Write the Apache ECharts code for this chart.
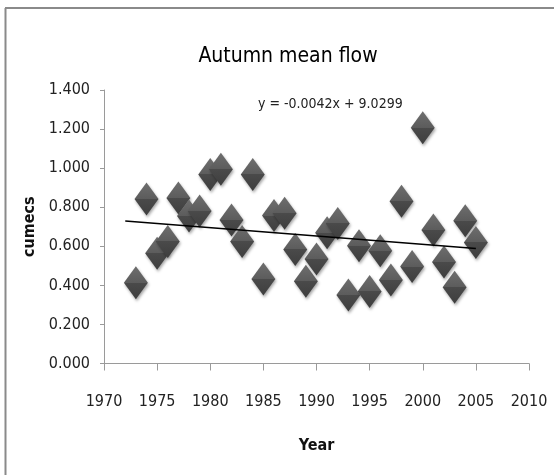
<!DOCTYPE html>
<html>
<head>
<meta charset="utf-8">
<script src="https://cdn.jsdelivr.net/npm/echarts@6/dist/echarts.min.js"></script>
<style>
html,body{margin:0;padding:0;background:#fff;}
#chart{width:554px;height:475px;}
</style>
</head>
<body>
<div id="chart"></div>
<script>
var years = [1973,1974,1975,1976,1977,1978,1979,1980,1981,1982,1983,1984,1985,1986,1987,1988,1989,1990,1991,1992,1993,1994,1995,1996,1997,1998,1999,2000,2001,2002,2003,2004,2005];
var flow = [0.413,0.842,0.564,0.625,0.847,0.755,0.780,0.968,0.994,0.734,0.625,0.968,0.432,0.757,0.769,0.584,0.421,0.535,0.669,0.717,0.351,0.603,0.369,0.577,0.427,0.830,0.496,1.207,0.683,0.519,0.390,0.731,0.620];
var trendYears = [1972, 2005];
var trendValues = [0.729, 0.589];
var xTicks = [1970,1975,1980,1985,1990,1995,2000,2005,2010];
var yTicks = [0,0.2,0.4,0.6,0.8,1.0,1.2,1.4];
var titleText = 'Autumn mean flow';
var equationText = 'y = -0.0042x + 9.0299';

var FONT = '"Liberation Sans Narrow", "DejaVu Sans Condensed", "Liberation Sans", sans-serif';
var chart = echarts.init(document.getElementById('chart'));
chart.setOption({
  animation: false,
  backgroundColor: '#fff',
  title: {
    text: titleText, left: 283, top: 41, textAlign: 'center',
    textStyle: {fontFamily: FONT, fontSize: 21, fontWeight: 'normal', color: '#000'}
  },
  graphic: [
    {type: 'line', shape: {x1: 5.5, y1: 8, x2: 5.5, y2: 475}, style: {stroke: '#8a8a8a', lineWidth: 2}},
    {type: 'line', shape: {x1: 5, y1: 8, x2: 554, y2: 8}, style: {stroke: '#8a8a8a', lineWidth: 2}},
    {type: 'text', left: 258, top: 97, style: {text: equationText, font: '14px ' + FONT, fill: '#222'}}
  ],
  grid: {left: 104, right: 25, top: 90, bottom: 111.5},
  xAxis: {
    type: 'value', min: 1970, max: 2010, interval: 5,
    name: 'Year', nameLocation: 'middle', nameGap: 74,
    nameTextStyle: {fontFamily: FONT, fontSize: 16, fontWeight: 'bold', color: '#111'},
    axisLine: {lineStyle: {color: '#9a9a9a', width: 1}},
    axisTick: {show: true, length: 7, lineStyle: {color: '#9a9a9a'}},
    axisLabel: {margin: 30, fontFamily: FONT, fontSize: 16, color: '#222',
      formatter: function (v) { return String(Math.round(v)); }},
    splitLine: {show: false}
  },
  yAxis: {
    type: 'value', min: 0, max: 1.4, interval: 0.2,
    name: 'cumecs', nameLocation: 'middle', nameGap: 64, nameRotate: 90,
    nameTextStyle: {fontFamily: FONT, fontSize: 16, fontWeight: 'bold', color: '#111'},
    axisLine: {show: true, lineStyle: {color: '#9a9a9a', width: 1}},
    axisTick: {show: true, length: 4, lineStyle: {color: '#9a9a9a'}},
    axisLabel: {margin: 14, fontFamily: FONT, fontSize: 16, color: '#222',
      formatter: function (v) { return v.toFixed(3); }},
    splitLine: {show: false}
  },
  series: [
    {
      type: 'scatter', z: 2,
      symbol: 'diamond', symbolSize: [24, 33],
      data: years.map(function (y, i) { return [y, flow[i]]; }),
      itemStyle: {
        color: {type: 'linear', x: 0, y: 0, x2: 0, y2: 1, colorStops: [
          {offset: 0, color: '#6e6e6e'}, {offset: 0.5, color: '#5c5c5c'},
          {offset: 0.5, color: '#4a4a4a'}, {offset: 1, color: '#3e3e3e'}]},
        opacity: 1,
        shadowColor: 'rgba(0,0,0,0.35)', shadowBlur: 3, shadowOffsetX: 1, shadowOffsetY: 2
      }
    },
    {
      type: 'line', z: 5, symbol: 'none', silent: true,
      data: trendYears.map(function (y, i) { return [y, trendValues[i]]; }),
      lineStyle: {color: '#000', width: 1.5}
    }
  ]
});
</script>
</body>
</html>
